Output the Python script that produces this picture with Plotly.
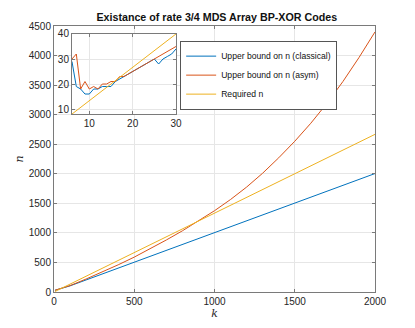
import plotly.graph_objects as go

# colours (MATLAB default order)
BLUE = "#0072BD"
ORANGE = "#D95319"
YELLOW = "#EDB120"

# main plot data
k_main = [6, 100, 200, 300, 400, 500, 600, 700, 800, 900, 1000,
          1100, 1200, 1300, 1400, 1500, 1600, 1700, 1800, 1900, 2000]
n_classical = [29, 104, 204, 304, 404, 504, 604, 704, 804, 904, 1004,
               1104, 1204, 1304, 1404, 1504, 1604, 1704, 1804, 1904, 2004]
n_asym = [30, 108, 220, 337, 460, 590, 730, 880, 1035, 1200, 1375,
          1565, 1775, 2010, 2270, 2550, 2855, 3190, 3560, 3965, 4400]
k_req = [6, 2000]
n_req = [8, 2667]

# inset data (k = 6..30)
k_small = list(range(6, 31))
n_classical_small = [29, 19, 18, 16, 16, 18, 18, 19, 19, 19, 21, 22, 23,
                     24, 25, 26, 27, 28, 29, 30, 28, 30, 31, 32, 34]
n_asym_small = [30, 32, 18, 21, 18, 19, 18, 20, 20, 21, 21, 23, 23,
                24, 25, 26, 27, 28, 29, 30, 31, 32, 33, 34, 35]
k_req_small = [6, 30]
n_req_small = [8, 40]

names = ["Upper bound on n (classical)", "Upper bound on n (asym)", "Required n"]

fig = go.Figure()
fig.add_trace(go.Scatter(x=k_main, y=n_classical, name=names[0], mode="lines",
                         line=dict(color=BLUE, width=1)))
fig.add_trace(go.Scatter(x=k_main, y=n_asym, name=names[1], mode="lines",
                         line=dict(color=ORANGE, width=1)))
fig.add_trace(go.Scatter(x=k_req, y=n_req, name=names[2], mode="lines",
                         line=dict(color=YELLOW, width=1)))

# inset
fig.add_trace(go.Scatter(x=k_small, y=n_classical_small, mode="lines", showlegend=False,
                         line=dict(color=BLUE, width=1), xaxis="x2", yaxis="y2"))
fig.add_trace(go.Scatter(x=k_small, y=n_asym_small, mode="lines", showlegend=False,
                         line=dict(color=ORANGE, width=1), xaxis="x2", yaxis="y2"))
fig.add_trace(go.Scatter(x=k_req_small, y=n_req_small, mode="lines", showlegend=False,
                         line=dict(color=YELLOW, width=1), xaxis="x2", yaxis="y2"))

axis_common = dict(
    showline=True, linecolor="#7a7a7a", linewidth=1, mirror="ticks",
    ticks="inside", ticklen=3, tickcolor="#7a7a7a",
    showgrid=True, gridcolor="#e6e6e6", gridwidth=1, zeroline=False,
    automargin=False,
    tickfont=dict(family="Liberation Sans, Arial, sans-serif", size=10, color="#262626"),
)

# page body has an 8px margin, so the figure is sized to fit inside the window
fig.update_layout(
    width=407, height=320,
    margin=dict(l=46, r=40, t=18, b=36),
    paper_bgcolor="white", plot_bgcolor="white",
    title=dict(text="<b>Existance of rate 3/4 MDS Array BP-XOR Codes</b>",
               x=0.513, xanchor="center", y=0.972, yanchor="middle",
               font=dict(family="Liberation Sans, Arial, sans-serif", size=10.7, color="#111")),
    xaxis=dict(range=[0, 2000], tick0=0, dtick=500, domain=[0, 1],
               title=dict(text="<i>k</i>", standoff=1,
                          font=dict(family="DejaVu Serif, serif", size=11, color="#262626")),
               **axis_common),
    yaxis=dict(range=[0, 4500], tick0=0, dtick=500, domain=[0, 1],
               title=dict(text="<i>n</i>", standoff=2,
                          font=dict(family="DejaVu Serif, serif", size=11, color="#262626")),
               **axis_common),
    xaxis2=dict(range=[6, 30], tickvals=[10, 20, 30], domain=[0.056, 0.380],
                anchor="y2", **axis_common),
    yaxis2=dict(range=[8, 40], tickvals=[10, 20, 30, 40], domain=[0.669, 0.970],
                anchor="x2", **axis_common),
    legend=dict(x=0.393, y=0.945, xanchor="left", yanchor="top",
                bgcolor="white", bordercolor="#555", borderwidth=1,
                font=dict(family="Liberation Sans, Arial, sans-serif", size=8.6, color="#111"),
                itemwidth=30, tracegroupgap=0),
    showlegend=True,
)

fig.write_html("out.html")
